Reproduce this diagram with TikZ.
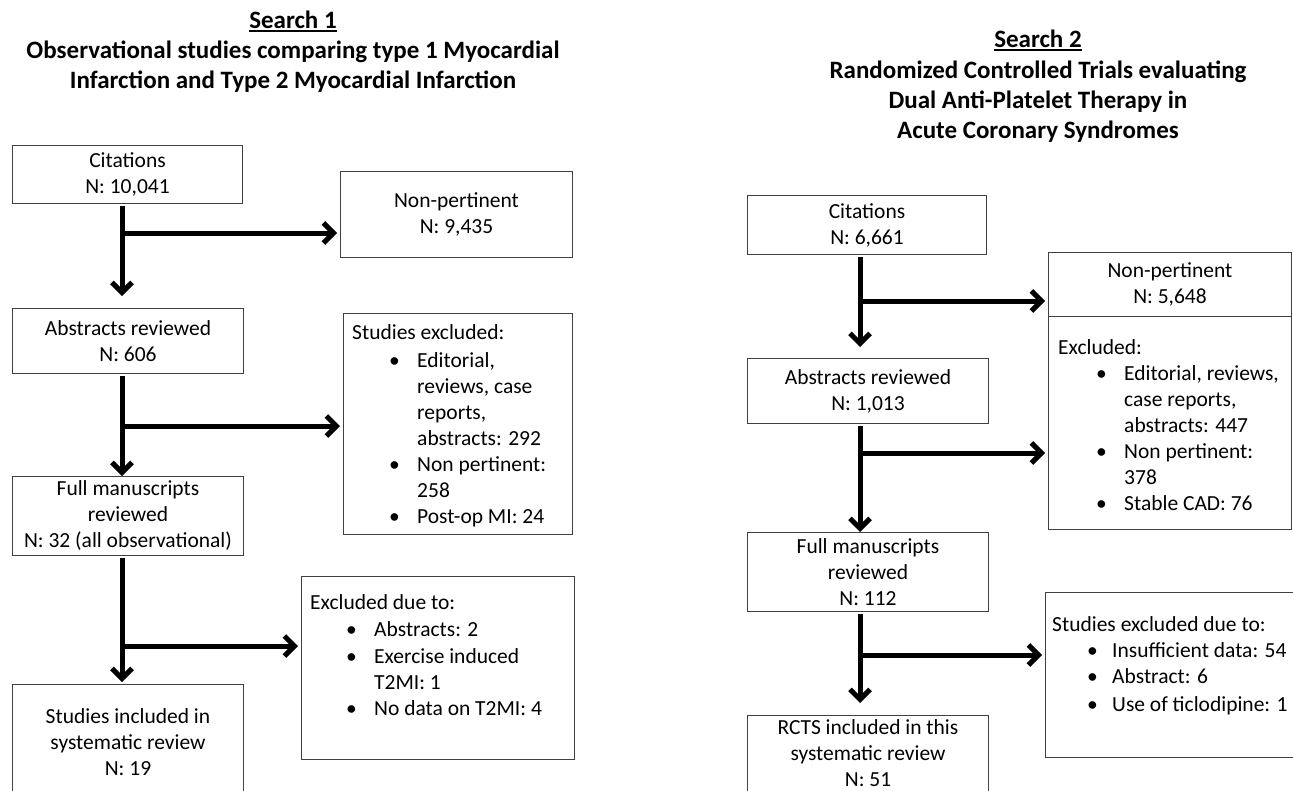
\documentclass[tikz,border=0pt]{standalone}
\usepackage{fontspec}
\setmainfont{Carlito}
\usetikzlibrary{arrows.meta}
\begin{document}
\begin{tikzpicture}[x=1pt,y=-1pt,
  box/.style={draw=black!75,line width=1pt,inner sep=0pt,anchor=north west,align=center,font=\fontsize{21.5}{26}\selectfont},
  txt/.style={inner sep=0pt,anchor=base west,font=\fontsize{21.5}{26}\selectfont},
  ttl/.style={inner sep=0pt,anchor=base,font=\fontsize{25}{30}\selectfont\bfseries},
  arr/.style={line width=5pt,-{Straight Barb[length=10pt,width=20pt]}},
  uline/.style={line width=1.5pt}]
\clip (0,0) rectangle (1293,790);
\fill[white] (0,0) rectangle (1293,790);
% ---------- Search 1 ----------
\node[ttl] (h1) at (293,28) {Search 1};
\draw[uline] ([yshift=-3pt]h1.base west) -- ([yshift=-3pt]h1.base east);
\node[ttl] (h1a) at (293,58) {Observational studies comparing type 1 Myocardial};
\node[ttl] (h1b) at (293,88) {Infarction and Type 2 Myocardial Infarction};

\node[box,minimum width=230pt,minimum height=58pt] (c1) at (12,145) {Citations\\N: 10,041};
\node[box,minimum width=232pt,minimum height=86pt] (np1) at (340,171) {Non-pertinent\\N: 9,435};
\node[box,minimum width=231pt,minimum height=65pt] (a1) at (12,308) {Abstracts reviewed\\N: 606};
\node[box,minimum width=229pt,minimum height=221pt] (ex1) at (343,313) {};
\node[box,minimum width=231pt,minimum height=79pt] (f1) at (12,476) {Full manuscripts\\reviewed\\N: 32 (all observational)};
\node[box,minimum width=273pt,minimum height=183pt] (ex2) at (301,576) {};
\node[box,minimum width=231pt,minimum height=115pt] (s1) at (12,684) {Studies included in\\systematic review\\N: 19};

% texts of ex1
\node[txt] (ex1t0) at (352,339) {Studies excluded:};
\node[txt] (ex1b1) at (389,367) {\textbullet};
\node[txt] (ex1t1) at (417,367) {Editorial,};
\node[txt] (ex1t2) at (417,393) {reviews, case};
\node[txt] (ex1t3) at (417,419) {reports,};
\node[txt] (ex1t4) at (417,445) {abstracts: 292};
\node[txt] (ex1b2) at (389,471) {\textbullet};
\node[txt] (ex1t5) at (417,471) {Non pertinent:};
\node[txt] (ex1t6) at (417,497) {258};
\node[txt] (ex1b3) at (389,523) {\textbullet};
\node[txt] (ex1t7) at (417,523) {Post-op MI: 24};

% texts of ex2
\node[txt] (ex2t0) at (310,609) {Excluded due to:};
\node[txt] (ex2b1) at (346,636) {\textbullet};
\node[txt] (ex2t1) at (374,636) {Abstracts: 2};
\node[txt] (ex2b2) at (346,663) {\textbullet};
\node[txt] (ex2t2) at (374,663) {Exercise induced};
\node[txt] (ex2t3) at (374,689) {T2MI: 1};
\node[txt] (ex2b3) at (346,715) {\textbullet};
\node[txt] (ex2t4) at (374,715) {No data on T2MI: 4};

% connectors left
\coordinate (L) at (122,0);
\draw[arr,shorten <=2pt,shorten >=12pt] (c1.south -| L) -- (a1.north -| L);
\coordinate (bl1) at (122,233);
\draw[arr,shorten >=3pt] (bl1) -- (bl1 -| np1.west);
\draw[arr,shorten <=2pt] (a1.south -| L) -- (f1.north -| L);
\coordinate (bl2) at (122,426);
\draw[arr,shorten >=3pt] (bl2) -- (bl2 -| ex1.west);
\draw[arr,shorten <=2pt,shorten >=2pt] (f1.south -| L) -- (s1.north -| L);
\coordinate (bl3) at (122,646);
\draw[arr,shorten >=3pt] (bl3) -- (bl3 -| ex2.west);

% ---------- Search 2 ----------
\node[ttl] (h2) at (1038,47) {Search 2};
\draw[uline] ([yshift=-3pt]h2.base west) -- ([yshift=-3pt]h2.base east);
\node[ttl] (h2a) at (1038,78) {Randomized Controlled Trials evaluating};
\node[ttl] (h2b) at (1038,108) {Dual Anti-Platelet Therapy in};
\node[ttl] (h2c) at (1038,138) {Acute Coronary Syndromes};

\node[box,minimum width=239pt,minimum height=59pt] (c2) at (747,195) {Citations\\N: 6,661};
\node[box,minimum width=243pt,minimum height=64pt] (np2) at (1048,252) {Non-pertinent\\N: 5,648};
\node[box,minimum width=243pt,minimum height=213pt] (ex3) at (1048,316) {};
\node[box,minimum width=241pt,minimum height=65pt] (a2) at (747,358) {Abstracts reviewed\\N: 1,013};
\node[box,minimum width=241pt,minimum height=79pt] (f2) at (747,532) {Full manuscripts\\reviewed\\N: 112};
\node[box,minimum width=262pt,minimum height=165pt] (ex4) at (1045,592) {};
\node[box,minimum width=241pt,minimum height=76pt] (r2) at (747,715) {RCTS included in this\\systematic review\\N: 51};

% texts of ex3
\node[txt] (ex3t0) at (1058,354) {Excluded:};
\node[txt] (ex3b1) at (1096,380.5) {\textbullet};
\node[txt] (ex3t1) at (1124,380.5) {Editorial, reviews,};
\node[txt] (ex3t2) at (1124,406.5) {case reports,};
\node[txt] (ex3t3) at (1124,432.5) {abstracts: 447};
\node[txt] (ex3b2) at (1096,458.5) {\textbullet};
\node[txt] (ex3t4) at (1124,458.5) {Non pertinent:};
\node[txt] (ex3t5) at (1124,484.5) {378};
\node[txt] (ex3b3) at (1096,510.5) {\textbullet};
\node[txt] (ex3t6) at (1124,510.5) {Stable CAD: 76};

% texts of ex4
\node[txt] (ex4t0) at (1052,631) {Studies excluded due to:};
\node[txt] (ex4b1) at (1087,657) {\textbullet};
\node[txt] (ex4t1) at (1112,657) {Insufficient data: 54};
\node[txt] (ex4b2) at (1087,683) {\textbullet};
\node[txt] (ex4t2) at (1112,683) {Abstract: 6};
\node[txt] (ex4b3) at (1087,711) {\textbullet};
\node[txt] (ex4t3) at (1112,711) {Use of ticlodipine: 1};

% connectors right
\coordinate (R) at (860,0);
\draw[arr,shorten <=2pt,shorten >=11pt] (c2.south -| R) -- (a2.north -| R);
\coordinate (br1) at (860,301);
\draw[arr,shorten >=3pt] (br1) -- (br1 -| np2.west);
\draw[arr,shorten <=2pt] (a2.south -| R) -- (f2.north -| R);
\coordinate (br2) at (860,453);
\draw[arr,shorten >=3pt] (br2) -- (br2 -| ex3.west);
\draw[arr,shorten <=2pt,shorten >=12pt] (f2.south -| R) -- (r2.north -| R);
\coordinate (br3) at (860,655);
\draw[arr,shorten >=3pt] (br3) -- (br3 -| ex4.west);
\end{tikzpicture}
\end{document}
